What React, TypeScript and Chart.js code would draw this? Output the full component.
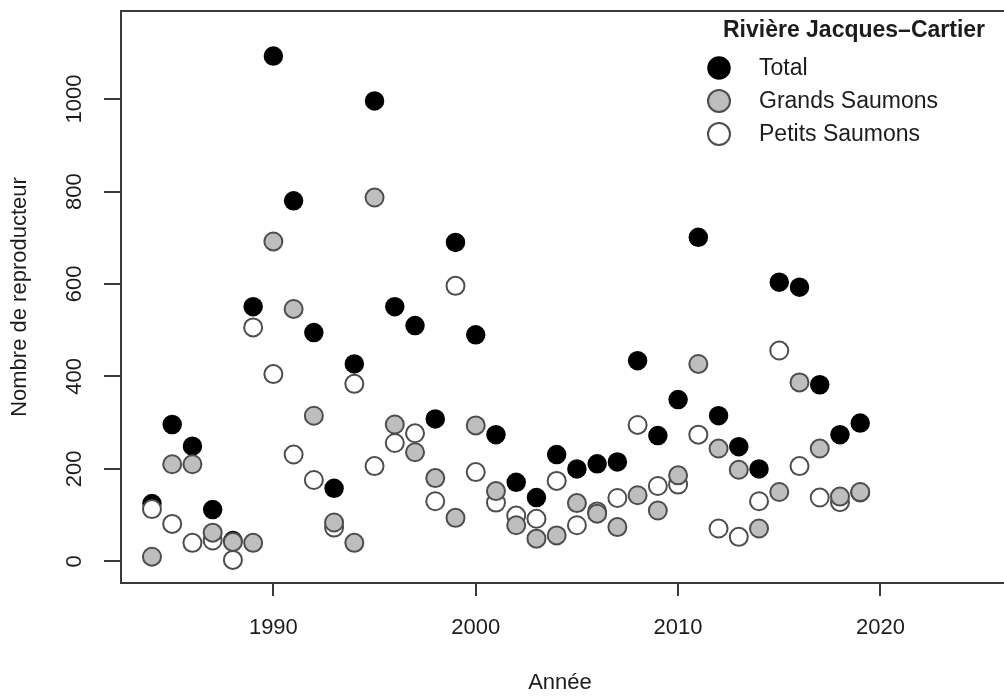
import React, { useEffect, useRef } from "react";
import { Chart, registerables } from "chart.js";

Chart.register(...registerables);

const years = [
  1984, 1985, 1986, 1987, 1988, 1989, 1990, 1991, 1992, 1993, 1994, 1995,
  1996, 1997, 1998, 1999, 2000, 2001, 2002, 2003, 2004, 2005, 2006, 2007,
  2008, 2009, 2010, 2011, 2012, 2013, 2014, 2015, 2016, 2017, 2018, 2019,
];
const totalValues = [
  125, 296, 249, 112, 45, 551, 1093, 780, 495, 158, 427, 996,
  551, 510, 308, 690, 490, 274, 171, 138, 231, 200, 211, 215,
  434, 272, 350, 701, 315, 248, 200, 604, 593, 382, 274, 299,
];
const grandsValues = [
  10, 210, 210, 62, 42, 40, 692, 546, 315, 84, 40, 787,
  296, 236, 180, 94, 294, 152, 78, 49, 56, 126, 103, 74,
  143, 110, 186, 427, 244, 198, 71, 150, 387, 244, 140, 150,
];
const petitsValues = [
  113, 81, 40, 45, 3, 506, 405, 231, 176, 73, 384, 206,
  256, 277, 130, 596, 193, 127, 99, 92, 174, 78, 108, 137,
  295, 163, 166, 274, 71, 53, 130, 456, 206, 138, 128, 149,
];
const xTicks = [1990, 2000, 2010, 2020];
const yTicks = [0, 200, 400, 600, 800, 1000];
const xTitle = "Année";
const yTitle = "Nombre de reproducteur";
const legendTitle = "Rivière Jacques–Cartier";
const seriesLabels = ["Total", "Grands Saumons", "Petits Saumons"];

const FONT = '"Liberation Sans", Arial, sans-serif';
const TEXT = "#1c1c1c";
const AXIS = "#3a3a3a";

const styles = [
  { fill: "#000000", stroke: "#000000", width: 1.5 },
  { fill: "#bebebe", stroke: "#4d4d4d", width: 2 },
  { fill: "#ffffff", stroke: "#4d4d4d", width: 2 },
];

const toPoints = (vals: number[]) => years.map((yr, i) => ({ x: yr, y: vals[i] }));

const framePlugin = {
  id: "rframe",
  afterDraw(chart: any) {
    const { ctx, chartArea: a, scales } = chart;
    const xs = scales.x;
    const ys = scales.y;
    ctx.save();
    ctx.strokeStyle = AXIS;
    ctx.lineWidth = 2;
    ctx.strokeRect(a.left, a.top, a.right - a.left, a.bottom - a.top);
    ctx.beginPath();
    xTicks.forEach((v) => {
      const px = Math.round(xs.getPixelForValue(v));
      ctx.moveTo(px, a.bottom);
      ctx.lineTo(px, a.bottom + 13);
    });
    yTicks.forEach((v) => {
      const py = Math.round(ys.getPixelForValue(v));
      ctx.moveTo(a.left, py);
      ctx.lineTo(a.left - 17, py);
    });
    ctx.stroke();

    ctx.fillStyle = TEXT;
    ctx.font = `22px ${FONT}`;
    ctx.textAlign = "center";
    ctx.textBaseline = "middle";
    xTicks.forEach((v) => {
      ctx.fillText(String(v), xs.getPixelForValue(v), a.bottom + 45);
    });
    yTicks.forEach((v) => {
      ctx.save();
      ctx.translate(a.left - 46, ys.getPixelForValue(v));
      ctx.rotate(-Math.PI / 2);
      ctx.fillText(String(v), 0, 0);
      ctx.restore();
    });
    // axis titles
    ctx.fillText(xTitle, 560, 683);
    ctx.save();
    ctx.translate(20, 297);
    ctx.rotate(-Math.PI / 2);
    ctx.fillText(yTitle, 0, 0);
    ctx.restore();

    // legend
    ctx.font = `bold 23px ${FONT}`;
    ctx.fillText(legendTitle, 854, 31);
    ctx.font = `23px ${FONT}`;
    ctx.textAlign = "left";
    const rowsY = [68, 101, 134];
    seriesLabels.forEach((lab, i) => {
      const st = styles[i];
      ctx.beginPath();
      ctx.arc(719, rowsY[i], 11, 0, Math.PI * 2);
      ctx.fillStyle = st.fill;
      ctx.fill();
      ctx.lineWidth = st.width;
      ctx.strokeStyle = st.stroke;
      ctx.stroke();
      ctx.fillStyle = TEXT;
      ctx.fillText(lab, 759, rowsY[i] + 1);
    });
    ctx.restore();
  },
};

export default function App() {
  const ref = useRef<HTMLCanvasElement | null>(null);
  useEffect(() => {
    if (!ref.current) return;
    const ds = (i: number, vals: number[]) => ({
      label: seriesLabels[i],
      data: toPoints(vals),
      backgroundColor: styles[i].fill,
      borderColor: styles[i].stroke,
      borderWidth: styles[i].width,
      pointRadius: 9,
      pointHoverRadius: 9,
      showLine: false,
    });
    const chart = new Chart(ref.current, {
      type: "scatter",
      data: {
        // first dataset is drawn last (on top): grands on top, total underneath
        datasets: [ds(1, grandsValues), ds(2, petitsValues), ds(0, totalValues)],
      },
      options: {
        responsive: false,
        maintainAspectRatio: false,
        animation: false,
        layout: { padding: { left: 121, top: 10, right: 16, bottom: 115 } },
        scales: {
          x: { type: "linear", min: 1982.47, max: 2026.6, display: false },
          y: { type: "linear", min: -46.9, max: 1190.6, display: false },
        },
        plugins: { legend: { display: false }, tooltip: { enabled: false } },
      },
      plugins: [framePlugin],
    });
    return () => chart.destroy();
  }, []);
  return (
    <div
      style={{
        position: "fixed",
        left: 0,
        top: 0,
        width: 1004,
        height: 698,
        overflow: "hidden",
        background: "#fff",
      }}
    >
      <canvas ref={ref} width={1030} height={698} style={{ width: 1030, height: 698, display: "block" }} />
    </div>
  );
}
